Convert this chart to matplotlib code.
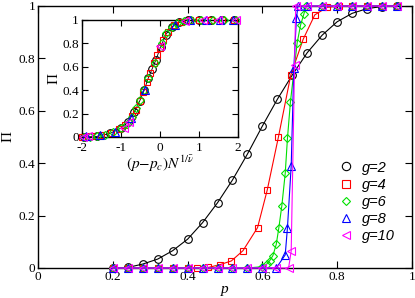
import matplotlib
matplotlib.use("Agg")
import matplotlib.pyplot as plt
from matplotlib.ticker import FixedLocator, FuncFormatter

plt.rcParams['axes.unicode_minus'] = False
plt.rcParams['mathtext.fontset'] = 'stix'

# ---------------- main panel data ----------------
g2_p = [0.20, 0.24, 0.28, 0.32, 0.36, 0.40, 0.44, 0.48, 0.52, 0.56, 0.60, 0.64,
        0.68, 0.72, 0.76, 0.80, 0.84, 0.88, 0.92, 0.96]
g2_pi = [0.0, 0.002, 0.015, 0.034, 0.066, 0.11, 0.173, 0.249, 0.336, 0.435, 0.542,
         0.644, 0.737, 0.822, 0.889, 0.94, 0.972, 0.99, 0.998, 1.0]

g4_p = [0.20, 0.24, 0.28, 0.32, 0.36, 0.40, 0.425, 0.455, 0.487, 0.517, 0.548,
        0.587, 0.613, 0.643, 0.676, 0.709, 0.74, 0.773, 0.805, 0.84, 0.88, 0.92, 0.96]
g4_pi = [0.0, 0.0, 0.0, 0.0, 0.0, 0.0, 0.0, 0.002, 0.013, 0.027, 0.066, 0.154,
         0.298, 0.501, 0.737, 0.873, 0.966, 0.995, 1.0, 1.0, 1.0, 1.0, 1.0]

g6_p = [0.20, 0.24, 0.28, 0.32, 0.36, 0.40, 0.44, 0.48, 0.52, 0.56, 0.60, 0.611,
        0.619, 0.628, 0.637, 0.644, 0.652, 0.661, 0.667, 0.675, 0.693, 0.702,
        0.711, 0.717, 0.76, 0.80, 0.84, 0.88, 0.92, 0.96]
g6_pi = [0.0, 0.0, 0.0, 0.0, 0.0, 0.0, 0.0, 0.0, 0.0, 0.0, 0.005, 0.014, 0.027,
         0.047, 0.09, 0.154, 0.238, 0.361, 0.495, 0.635, 0.86, 0.927, 0.97, 1.0,
         1.0, 1.0, 1.0, 1.0, 1.0, 1.0]

g8_p = [0.20, 0.24, 0.28, 0.32, 0.36, 0.40, 0.44, 0.48, 0.52, 0.56, 0.60, 0.637,
        0.661, 0.667, 0.677, 0.684, 0.691, 0.695, 0.72, 0.76, 0.80, 0.84, 0.88,
        0.92, 0.96]
g8_pi = [0.0, 0.0, 0.0, 0.0, 0.0, 0.0, 0.0, 0.0, 0.0, 0.0, 0.0, 0.0, 0.05, 0.154,
         0.39, 0.762, 0.953, 1.0, 1.0, 1.0, 1.0, 1.0, 1.0, 1.0, 1.0]

g10_p = [0.20, 0.24, 0.28, 0.32, 0.36, 0.40, 0.44, 0.48, 0.52, 0.56, 0.60, 0.637,
         0.67, 0.677, 0.686, 0.689, 0.72, 0.76, 0.80, 0.84, 0.88, 0.92, 0.96]
g10_pi = [0.0, 0.0, 0.0, 0.0, 0.0, 0.0, 0.0, 0.0, 0.0, 0.0, 0.0, 0.0, 0.0, 0.065,
          0.775, 1.0, 1.0, 1.0, 1.0, 1.0, 1.0, 1.0, 1.0]

labels = ["g=2", "g=4", "g=6", "g=8", "g=10"]
colors = ["black", "#ff0000", "#00e000", "#0000ff", "#ff00ff"]
markers = ["o", "s", "D", "^", "<"]
msizes = [5.5, 5.0, 4.0, 5.5, 5.5]

# ---------------- inset (scaling collapse) data ----------------
in2_x = [-1.95, -1.62, -1.28, -1.0, -0.82, -0.65, -0.52, -0.4, -0.3, -0.2, -0.1,
         0.02, 0.15, 0.3, 0.5, 0.72, 1.0, 1.3, 1.6, 1.9]
in2_y = [0.0, 0.005, 0.03, 0.075, 0.125, 0.215, 0.305, 0.4, 0.5, 0.58, 0.66,
         0.77, 0.875, 0.94, 0.98, 1.0, 1.0, 1.0, 1.0, 1.0]
in4_x = [-1.98, -1.75, -1.5, -1.25, -1.05, -0.88, -0.72, -0.62, -0.52, -0.42,
         -0.33, -0.25, -0.15, -0.08, 0.0, 0.08, 0.2, 0.35, 0.55, 0.78, 1.0, 1.3,
         1.6, 1.9]
in4_y = [0.0, 0.01, 0.02, 0.035, 0.065, 0.105, 0.18, 0.235, 0.31, 0.385, 0.47,
         0.55, 0.63, 0.7, 0.76, 0.83, 0.9, 0.955, 0.985, 1.0, 1.0, 1.0, 1.0, 1.0]
in6_x = [-1.95, -1.8, -1.6, -1.4, -1.2, -1.0, -0.85, -0.72, -0.6, -0.5, -0.4,
         -0.3, -0.13, 0.05, 0.17, 0.3, 0.45, 0.62, 0.8, 1.05, 1.35, 1.65, 1.95]
in6_y = [0.0, 0.0, 0.01, 0.02, 0.04, 0.075, 0.115, 0.17, 0.245, 0.32, 0.4, 0.5,
         0.635, 0.8, 0.886, 0.94, 0.975, 0.99, 1.0, 1.0, 1.0, 1.0, 1.0]
in8_x = [-1.9, -1.53, -1.15, -0.73, -0.39, 0.4, 0.77, 1.17, 1.53, 1.88]
in8_y = [0.005, 0.015, 0.045, 0.16, 0.4, 0.958, 1.0, 1.0, 1.0, 1.0]
in10_x = [-1.97, -1.85, -0.93, -0.78, 0.0, 0.65, 1.1, 1.5, 1.95]
in10_y = [0.0, 0.005, 0.08, 0.125, 0.78, 0.99, 1.0, 1.0, 1.0]

main_x = [g2_p, g4_p, g6_p, g8_p, g10_p]
main_y = [g2_pi, g4_pi, g6_pi, g8_pi, g10_pi]
ins_x = [in2_x, in4_x, in6_x, in8_x, in10_x]
ins_y = [in2_y, in4_y, in6_y, in8_y, in10_y]

serif = "Liberation Serif"
fmt = lambda v, pos: ("%g" % v)

fig = plt.figure(figsize=(4.15, 2.98), dpi=100)
ax = fig.add_axes([38 / 415, 30 / 298, 374 / 415, 262 / 298])

for i in range(5):
    ax.plot(main_x[i], main_y[i], color=colors[i], lw=0.8, marker=markers[i],
            ms=msizes[i], mfc="none", mec=colors[i], mew=0.8, clip_on=False,
            label=labels[i], zorder=3)

ax.set_xlim(0, 1)
ax.set_ylim(0, 1)
ax.xaxis.set_major_locator(FixedLocator([0, 0.2, 0.4, 0.6, 0.8, 1.0]))
ax.yaxis.set_major_locator(FixedLocator([0, 0.2, 0.4, 0.6, 0.8, 1.0]))
ax.xaxis.set_major_formatter(FuncFormatter(fmt))
ax.yaxis.set_major_formatter(FuncFormatter(fmt))
ax.tick_params(direction="in", length=5, width=0.8, top=True, right=True,
               labelsize=9.5, pad=2)
for lab in ax.get_xticklabels() + ax.get_yticklabels():
    lab.set_fontfamily(serif)
for s in ax.spines.values():
    s.set_linewidth(1.0)
ax.set_xlabel("p", fontfamily=serif, fontstyle="italic", fontsize=11, labelpad=0)
ax.set_ylabel("Π", fontfamily=serif, fontsize=11, labelpad=3)

leg_handles = []
for i in range(5):
    h, = ax.plot([], [], ls="none", marker=markers[i], ms=msizes[i] + 0.5,
                 mfc="none", mec=colors[i], mew=0.8)
    leg_handles.append(h)
leg = ax.legend(leg_handles, labels, loc="center left",
                bbox_to_anchor=(0.805, 0.252), frameon=False,
                prop={"family": "Liberation Sans", "style": "italic", "size": 10.5},
                handlelength=1.0, handletextpad=0.55, labelspacing=0.22,
                borderpad=0, borderaxespad=0)

# ---------------- inset ----------------
axi = fig.add_axes([81.7 / 415, (298 - 137) / 298, 156.3 / 415, 117 / 298])
for i in range(5):
    axi.plot(ins_x[i], ins_y[i], ls="none", marker=markers[i], ms=msizes[i],
             mfc="none", mec=colors[i], mew=0.8, clip_on=False, zorder=3)
axi.plot(in2_x, in2_y, color="black", lw=0.6, zorder=2)
axi.set_xlim(-2, 2)
axi.set_ylim(0, 1)
axi.xaxis.set_major_locator(FixedLocator([-2, -1, 0, 1, 2]))
axi.yaxis.set_major_locator(FixedLocator([0, 0.2, 0.4, 0.6, 0.8, 1.0]))
axi.xaxis.set_major_formatter(FuncFormatter(fmt))
axi.yaxis.set_major_formatter(FuncFormatter(fmt))
axi.tick_params(direction="in", length=4, width=0.8, top=True, right=True,
                labelsize=9.5, pad=2)
axi.tick_params(axis="x", pad=3.5)
for lab in axi.get_xticklabels() + axi.get_yticklabels():
    lab.set_fontfamily(serif)
for s in axi.spines.values():
    s.set_linewidth(1.0)
axi.set_xlabel(r"$(p\mathrm{-}p_c)N^{1/\bar{\nu}}$", fontsize=11, labelpad=0)
axi.set_ylabel("Π", fontfamily=serif, fontsize=11, labelpad=1)

fig.savefig("out.png", dpi=100)
